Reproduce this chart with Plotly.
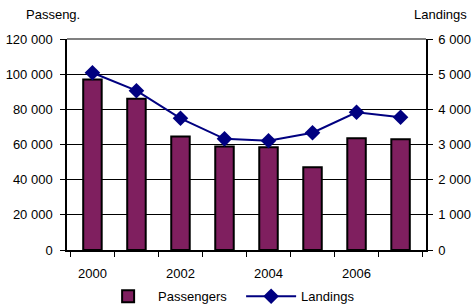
import plotly.graph_objects as go

years = ["2000", "2001", "2002", "2003", "2004", "2005", "2006", "2007"]
year_labels = ["2000", "", "2002", "", "2004", "", "2006", ""]
passengers = [97000, 86000, 64500, 58800, 58400, 47100, 63600, 63000]
landings = [5040, 4530, 3745, 3160, 3105, 3335, 3915, 3775]

left_ticks = [0, 20000, 40000, 60000, 80000, 100000, 120000]
left_ticktext = ["0", "20 000", "40 000", "60 000", "80 000", "100 000", "120 000"]
right_ticks = [0, 1000, 2000, 3000, 4000, 5000, 6000]
right_ticktext = ["0", "1 000", "2 000", "3 000", "4 000", "5 000", "6 000"]

FONT = "Liberation Sans, Arial, sans-serif"

fig = go.Figure()
fig.add_trace(go.Bar(
    x=years, y=passengers, name="Passengers",
    marker=dict(color="#7F1F5F", line=dict(color="black", width=2)),
    width=0.42, yaxis="y",
))
fig.add_trace(go.Scatter(
    x=years, y=landings, name="Landings", mode="lines+markers",
    line=dict(color="#000080", width=2),
    marker=dict(symbol="diamond", size=12, color="#000080"),
    yaxis="y2",
))

fig.update_layout(
    width=473, height=307,
    margin=dict(l=67, r=47, t=39, b=57, autoexpand=False),
    paper_bgcolor="white", plot_bgcolor="white",
    font=dict(family=FONT, size=13, color="black"),
    showlegend=True,
    legend=dict(orientation="h", x=0.485, xanchor="center",
                yref="container", y=0.035, yanchor="middle",
                font=dict(size=13), itemwidth=50, entrywidth=78, tracegroupgap=0),
    xaxis=dict(
        type="category", tickmode="array", tickvals=years, ticktext=year_labels,
        tickson="boundaries", ticks="outside", ticklen=5, tickcolor="black",
        showline=True, linecolor="black", linewidth=1.5, automargin=False,
        showgrid=False, tickfont=dict(size=13), ticklabelstandoff=11,
    ),
    yaxis=dict(
        range=[0, 120000], tickmode="array", tickvals=left_ticks, ticktext=left_ticktext,
        ticks="outside", ticklen=5, tickcolor="black",
        showline=True, linecolor="black", linewidth=1.5, automargin=False,
        showgrid=True, gridcolor="black", gridwidth=1, zeroline=False,
        tickfont=dict(size=13), ticklabelstandoff=5,
    ),
    yaxis2=dict(
        range=[0, 6000], tickmode="array", tickvals=right_ticks, ticktext=right_ticktext,
        overlaying="y", side="right",
        ticks="outside", ticklen=5, tickcolor="black",
        showline=True, linecolor="black", linewidth=1.5, automargin=False,
        showgrid=False, zeroline=False, tickfont=dict(size=13), ticklabelstandoff=3,
    ),
    shapes=[dict(type="line", xref="paper", yref="paper", x0=0, x1=1, y0=1, y1=1,
                 line=dict(color="#808080", width=2))],
    annotations=[
        dict(text="Passeng.", xref="paper", yref="paper", x=-0.12, y=1.07,
             xanchor="left", yanchor="bottom", showarrow=False, font=dict(size=13)),
        dict(text="Landings", xref="paper", yref="paper", x=1.12, y=1.07,
             xanchor="right", yanchor="bottom", showarrow=False, font=dict(size=13)),
    ],
)

fig.write_html("out.html", config={"displayModeBar": False},
               post_script="document.body.style.margin='0';")
